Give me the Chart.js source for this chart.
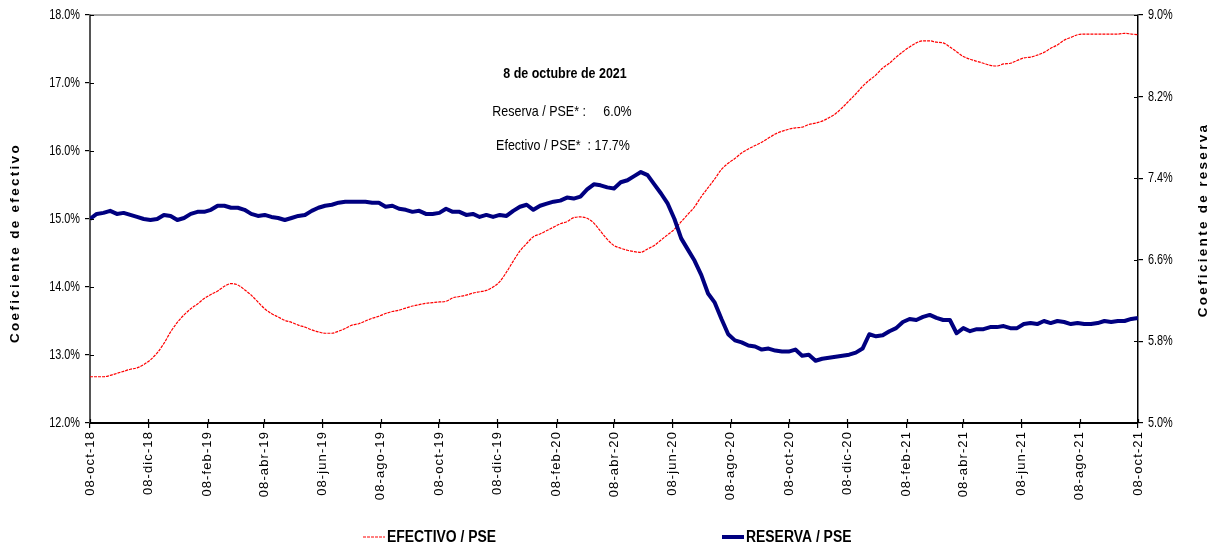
<!DOCTYPE html>
<html><head><meta charset="utf-8">
<script src="https://cdn.jsdelivr.net/npm/chart.js@4.4.1/dist/chart.umd.min.js"></script>
<style>html,body{margin:0;padding:0;background:#fff;}#wrap{width:1215px;height:548px;}</style>
</head><body><div id="wrap"><canvas id="c" width="1215" height="548"></canvas></div>
<script>
const tickLabels = ['08-oct-18','08-dic-18','08-feb-19','08-abr-19','08-jun-19','08-ago-19','08-oct-19','08-dic-19','08-feb-20','08-abr-20','08-jun-20','08-ago-20','08-oct-20','08-dic-20','08-feb-21','08-abr-21','08-jun-21','08-ago-21','08-oct-21'];
const tickDates = ['2018-10-08','2018-12-08','2019-02-08','2019-04-08','2019-06-08','2019-08-08','2019-10-08','2019-12-08','2020-02-08','2020-04-08','2020-06-08','2020-08-08','2020-10-08','2020-12-08','2021-02-08','2021-04-08','2021-06-08','2021-08-08','2021-10-08'];
const leftTicks = [12,13,14,15,16,17,18];
const rightTicks = [5.0,5.8,6.6,7.4,8.2,9.0];
const seriesNames = ['EFECTIVO / PSE','RESERVA / PSE'];
const axisTitles = ['Coeficiente de efectivo','Coeficiente de reserva'];
const fechaCorte = '8 de octubre de 2021';

// weekly observations, 08-oct-18 .. 08-oct-21 (%)
const efectivo = [
12.68,12.68,12.68,12.70,12.73,12.76,12.79,12.81,12.86,12.93,
13.03,13.17,13.34,13.48,13.59,13.68,13.75,13.83,13.89,13.94,
14.01,14.05,14.03,13.96,13.88,13.78,13.68,13.61,13.56,13.51,
13.48,13.44,13.41,13.37,13.34,13.32,13.32,13.35,13.39,13.44,
13.46,13.50,13.54,13.57,13.61,13.64,13.66,13.69,13.72,13.74,
13.76,13.77,13.78,13.79,13.84,13.86,13.88,13.91,13.93,13.95,
14.00,14.08,14.22,14.38,14.53,14.64,14.74,14.78,14.83,14.88,
14.93,14.96,15.02,15.03,15.01,14.94,14.82,14.70,14.61,14.57,
14.54,14.52,14.51,14.56,14.61,14.69,14.77,14.85,14.96,15.07,
15.18,15.33,15.46,15.59,15.73,15.82,15.89,15.97,16.03,16.08,
16.13,16.19,16.25,16.29,16.32,16.34,16.35,16.39,16.41,16.44,
16.49,16.55,16.64,16.74,16.84,16.95,17.04,17.12,17.22,17.29,
17.38,17.46,17.53,17.59,17.62,17.62,17.60,17.59,17.53,17.46,
17.39,17.35,17.32,17.29,17.26,17.25,17.28,17.29,17.33,17.37,
17.38,17.41,17.45,17.51,17.56,17.63,17.67,17.71,17.72,17.72,
17.72,17.72,17.72,17.72,17.73,17.72,17.71];
const reserva = [
7.00,7.05,7.06,7.08,7.05,7.06,7.04,7.02,7.00,6.99,
7.00,7.04,7.03,6.99,7.01,7.05,7.07,7.07,7.09,7.13,
7.13,7.11,7.11,7.09,7.05,7.03,7.04,7.02,7.01,6.99,
7.01,7.03,7.04,7.08,7.11,7.13,7.14,7.16,7.17,7.17,
7.17,7.17,7.16,7.16,7.12,7.13,7.10,7.09,7.07,7.08,
7.05,7.05,7.06,7.10,7.07,7.07,7.04,7.05,7.02,7.04,
7.02,7.04,7.03,7.08,7.12,7.14,7.09,7.13,7.15,7.17,
7.18,7.21,7.20,7.22,7.29,7.34,7.33,7.31,7.30,7.36,
7.38,7.42,7.46,7.43,7.34,7.25,7.15,7.00,6.81,6.70,
6.59,6.45,6.27,6.18,6.02,5.87,5.81,5.79,5.76,5.75,
5.72,5.73,5.71,5.70,5.70,5.72,5.66,5.67,5.61,5.63,
5.64,5.65,5.66,5.67,5.69,5.73,5.87,5.85,5.86,5.90,
5.93,5.99,6.02,6.01,6.04,6.06,6.03,6.01,6.01,5.88,
5.93,5.90,5.92,5.92,5.94,5.94,5.95,5.93,5.93,5.97,
5.98,5.97,6.00,5.98,6.00,5.99,5.97,5.98,5.97,5.97,
5.98,6.00,5.99,6.00,6.00,6.02,6.03];

const DAY = 86400000;
const t0 = Date.parse(tickDates[0]);
const tickDays = tickDates.map(d => Math.round((Date.parse(d) - t0) / DAY));
const totalDays = tickDays[tickDays.length - 1];
const toPoints = arr => arr.map((v, i) => ({x: i * totalDays / (arr.length - 1), y: v}));

const SANS = "'Liberation Sans',Arial,sans-serif";

function condensedText(ctx, text, x, y, sx) {
  ctx.save(); ctx.translate(x, y); ctx.scale(sx, 1); ctx.fillText(text, 0, 0); ctx.restore();
}

const labelStyle = {
  id: 'labelStyle',
  afterLayout(chart) {
    const wrap = (s, fn) => {
      if (!s || s._styled) return;
      const orig = s.drawLabels;
      s.drawLabels = function (area) { const c = this.ctx; c.save(); fn(c, this); orig.call(this, area); c.restore(); };
      s._styled = true;
    };
    wrap(chart.scales.x, c => { try { c.letterSpacing = '1.1px'; } catch (e) {} });
    wrap(chart.scales.y, (c, s) => { const ax = s.right - 10; c.translate(ax, 0); c.scale(0.75, 1); c.translate(-ax, 0); });
    wrap(chart.scales.y2, (c, s) => { const ax = s.left + 10; c.translate(ax, 0); c.scale(0.75, 1); c.translate(-ax, 0); });
  }
};

const deco = {
  id: 'deco',
  afterDraw(chart) {
    const {ctx, chartArea: a, scales} = chart;
    ctx.save();
    // top border
    ctx.strokeStyle = '#8a8a8a'; ctx.lineWidth = 1.5;
    ctx.beginPath(); ctx.moveTo(a.left, a.top); ctx.lineTo(a.right, a.top); ctx.stroke();
    // inner tick halves
    ctx.strokeStyle = '#000'; ctx.lineWidth = 1.2;
    ctx.beginPath();
    scales.y.ticks.forEach(t => { const p = Math.round(scales.y.getPixelForValue(t.value)) + 0.5; ctx.moveTo(a.left, p); ctx.lineTo(a.left + 4, p); });
    scales.y2.ticks.forEach(t => { const p = Math.round(scales.y2.getPixelForValue(t.value)) + 0.5; ctx.moveTo(a.right - 4, p); ctx.lineTo(a.right, p); });
    scales.x.ticks.forEach(t => { const p = Math.round(scales.x.getPixelForValue(t.value)) + 0.5; ctx.moveTo(p, a.bottom - 4); ctx.lineTo(p, a.bottom); });
    ctx.stroke();
    // axis titles
    ctx.fillStyle = '#000';
    ctx.font = 'bold 13.5px ' + SANS;
    try { ctx.letterSpacing = '2.3px'; } catch (e) {}
    ctx.textAlign = 'center'; ctx.textBaseline = 'middle';
    ctx.save(); ctx.translate(15, 243); ctx.rotate(-Math.PI / 2); ctx.fillText(axisTitles[0], 0, 0); ctx.restore();
    ctx.save(); ctx.translate(1203, 220); ctx.rotate(-Math.PI / 2); ctx.fillText(axisTitles[1], 0, 0); ctx.restore();
    try { ctx.letterSpacing = '0px'; } catch (e) {}
    // annotation
    const lastR = reserva[reserva.length - 1].toFixed(1) + '%';
    const lastE = efectivo[efectivo.length - 1].toFixed(1) + '%';
    ctx.font = 'bold 14.5px ' + SANS;
    condensedText(ctx, fechaCorte, 565, 74, 0.86);
    ctx.font = '14.5px ' + SANS;
    condensedText(ctx, 'Reserva / PSE* :     ' + lastR, 562, 112, 0.86);
    condensedText(ctx, 'Efectivo / PSE*  : ' + lastE, 563, 146, 0.86);
    // legend
    const ds = chart.data.datasets;
    const items = [{d: ds[1], x: 363}, {d: ds[0], x: 722}];
    ctx.textAlign = 'left';
    ctx.font = 'bold 16px ' + SANS;
    items.forEach(it => {
      ctx.save();
      ctx.strokeStyle = it.d.borderColor; ctx.lineWidth = it.d.borderWidth;
      ctx.setLineDash(it.d.borderDash || []);
      ctx.beginPath(); ctx.moveTo(it.x, 537); ctx.lineTo(it.x + 22, 537); ctx.stroke();
      ctx.restore();
      ctx.fillStyle = '#000';
      condensedText(ctx, it.d.label, it.x + 24, 538, 0.87);
    });
    ctx.restore();
  }
};

new Chart(document.getElementById('c'), {
  type: 'line',
  data: {
    datasets: [
      {label: seriesNames[1], data: toPoints(reserva), yAxisID: 'y2', borderColor: '#000080', borderWidth: 4, pointRadius: 0, tension: 0, borderJoinStyle: 'round'},
      {label: seriesNames[0], data: toPoints(efectivo), yAxisID: 'y', borderColor: '#ff0000', borderWidth: 1.2, borderDash: [3, 1], pointRadius: 0, cubicInterpolationMode: 'monotone'}
    ]
  },
  options: {
    responsive: false, animation: false, devicePixelRatio: 1,
    layout: {padding: {top: 15, left: 0, right: 0, bottom: 0}},
    plugins: {legend: {display: false}, tooltip: {enabled: false}},
    scales: {
      x: {
        type: 'linear', min: 0, max: totalDays,
        afterBuildTicks: s => { s.ticks = tickDays.map(v => ({value: v})); },
        afterFit: s => { s.height = 125; },
        ticks: {autoSkip: false, maxRotation: 90, minRotation: 90, padding: 3, color: '#000',
          font: {family: SANS, size: 13},
          callback: v => { const k = tickDays.indexOf(v); return k >= 0 ? tickLabels[k] : ''; }},
        grid: {drawOnChartArea: false, tickLength: 5, color: '#000', lineWidth: 1.2},
        border: {color: '#000', width: 2}
      },
      y: {
        position: 'left', min: leftTicks[0], max: leftTicks[leftTicks.length - 1],
        afterBuildTicks: s => { s.ticks = leftTicks.map(v => ({value: v})); },
        afterFit: s => { s.width = 90; },
        ticks: {padding: 5, color: '#000', font: {family: SANS, size: 14.5}, callback: v => v.toFixed(1) + '%'},
        grid: {drawOnChartArea: false, tickLength: 5, color: '#000', lineWidth: 1.2},
        border: {color: '#555', width: 2}
      },
      y2: {
        position: 'right', min: rightTicks[0], max: rightTicks[rightTicks.length - 1],
        afterBuildTicks: s => { s.ticks = rightTicks.map(v => ({value: v})); },
        afterFit: s => { s.width = 77; },
        ticks: {padding: 5, color: '#000', font: {family: SANS, size: 14.5}, callback: v => v.toFixed(1) + '%'},
        grid: {drawOnChartArea: false, tickLength: 5, color: '#000', lineWidth: 1.2},
        border: {color: '#000', width: 1.5}
      }
    }
  },
  plugins: [labelStyle, deco]
});
</script></body></html>
